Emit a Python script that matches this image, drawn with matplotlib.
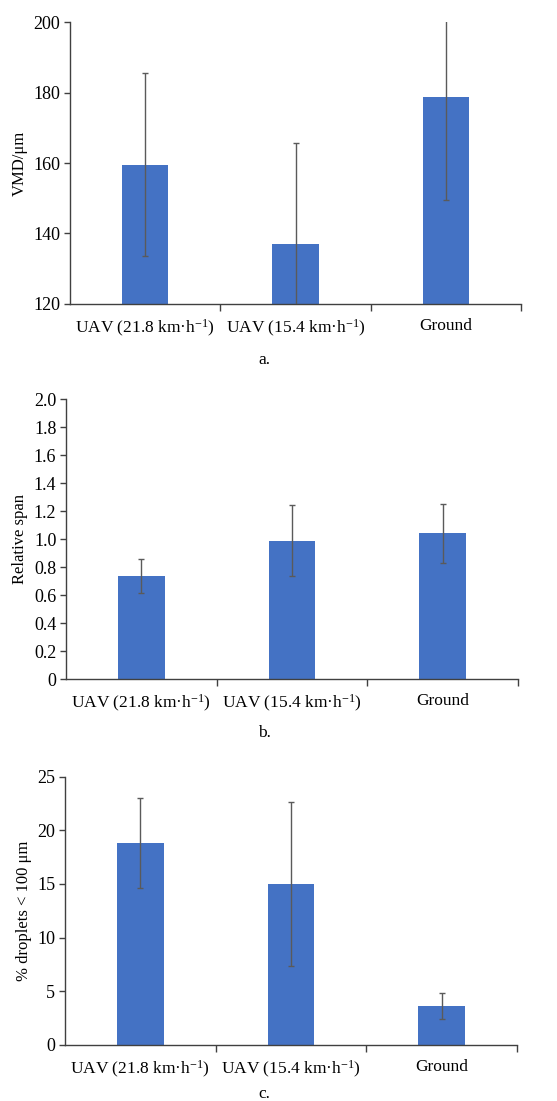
import matplotlib
matplotlib.use("Agg")
import matplotlib.pyplot as plt
import numpy as np

plt.rcParams['font.family'] = ['Liberation Serif', 'DejaVu Serif']
plt.rcParams['mathtext.fontset'] = 'custom'
plt.rcParams['mathtext.rm'] = 'Liberation Serif'
plt.rcParams['mathtext.it'] = 'Liberation Serif:italic'

categories = ["UAV (21.8 km·h$^{-1}$)", "UAV (15.4 km·h$^{-1}$)", "Ground"]

vmd = [159.5, 136.9, 178.7]
vmd_err = [26.0, 28.7, 29.1]

rel_span = [0.737, 0.989, 1.041]
rel_span_err = [0.124, 0.252, 0.211]

pct_small = [18.8, 15.0, 3.63]
pct_small_err = [4.2, 7.6, 1.2]

bar_color = "#4472C4"
err_color = "#5a5a5a"
spine_color = "#404040"

fig = plt.figure(figsize=(5.57, 11.01), dpi=100)

panels = [
    dict(rect=[0.1257, 0.7239, 0.8097, 0.2561], vals=vmd, err=vmd_err,
         ylim=(120, 200), yticks=[120, 140, 160, 180, 200],
         yticklabels=["120", "140", "160", "180", "200"],
         ylabel="VMD/μm", cap="a.", capy=1 - 360 / 1101),
    dict(rect=[0.1185, 0.3830, 0.8115, 0.2546], vals=rel_span, err=rel_span_err,
         ylim=(0, 2.0), yticks=np.arange(0, 2.01, 0.2),
         yticklabels=["0"] + [f"{v:.1f}" for v in np.arange(0.2, 2.01, 0.2)],
         ylabel="Relative span", cap="b.", capy=1 - 733 / 1101),
    dict(rect=[0.1167, 0.0509, 0.8115, 0.2437], vals=pct_small, err=pct_small_err,
         ylim=(0, 25), yticks=[0, 5, 10, 15, 20, 25],
         yticklabels=["0", "5", "10", "15", "20", "25"],
         ylabel="% droplets < 100 μm", cap="c.", capy=1 - 1094 / 1101),
]

x = np.arange(len(categories))
for p in panels:
    ax = fig.add_axes(p["rect"])
    ax.bar(x, p["vals"], width=0.31, color=bar_color, zorder=2)
    ax.errorbar(x, p["vals"], yerr=p["err"], fmt="none", ecolor=err_color,
                elinewidth=1.0, capsize=2.5, capthick=1.0, zorder=3)
    ax.set_xlim(-0.5, 2.5)
    ax.set_ylim(*p["ylim"])
    ax.set_yticks(p["yticks"])
    ax.set_yticklabels(p["yticklabels"], fontsize=13)
    ax.set_xticks(x)
    ax.set_xticklabels(categories, fontsize=12.5)
    ax.set_xticks([0.5, 1.5, 2.5], minor=True)
    ax.tick_params(axis="x", which="major", length=0, pad=10)
    ax.tick_params(axis="x", which="minor", length=5, width=1.0, color=spine_color, direction="out")
    ax.tick_params(axis="y", which="major", length=4, width=1.0, color=spine_color, direction="out", pad=3)
    for s in ["top", "right"]:
        ax.spines[s].set_visible(False)
    for s in ["left", "bottom"]:
        ax.spines[s].set_color(spine_color)
        ax.spines[s].set_linewidth(1.0)
    ax.set_ylabel(p["ylabel"], fontsize=12)
    fig.text(0.474, p["capy"], p["cap"], ha="center", va="center", fontsize=12.5)

fig.savefig("out.png", dpi=100)
